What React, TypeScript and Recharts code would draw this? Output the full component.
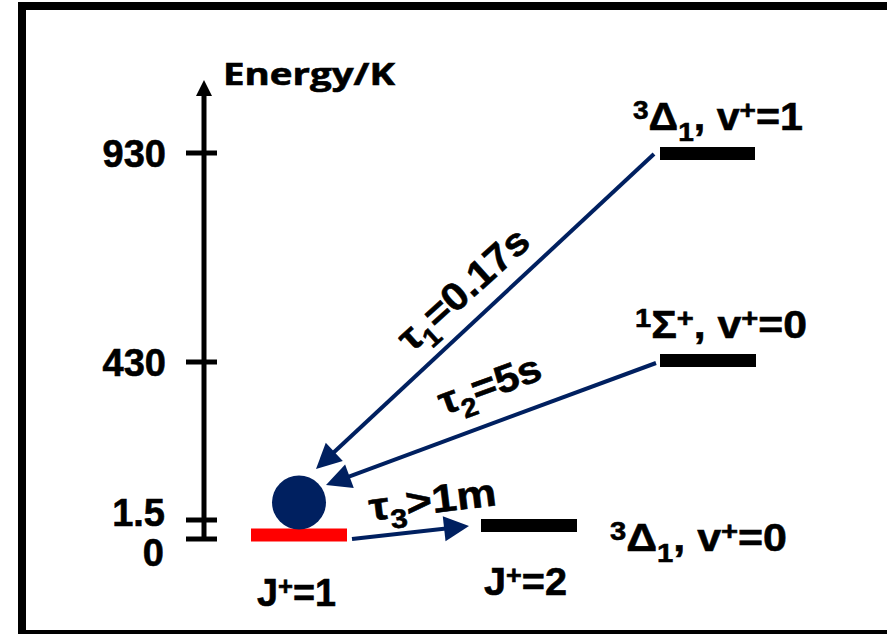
import {
  ComposedChart,
  XAxis,
  YAxis,
  ReferenceLine,
  ReferenceDot,
  Scatter,
} from "recharts";

// energy axis is schematic (not linear), so ticks sit at drawn positions
const tickPos = [0, 19, 177, 386];
const tickLabels = ["0", "1.5", "430", "930"];

// levels: start/end along x and position on the energy axis
const levelNames = ["J+=1", "J+=2", "1Σ+, v+=0", "3Δ1, v+=1"];
const levelX0 = [47, 277, 456, 456];
const levelX1 = [143, 373, 552, 551];
const levelPos = [4, 13.5, 178.5, 385.5];
const levelColors = ["#ff0000", "#000000", "#000000", "#000000"];

// decay arrows: from upper state to arrow tip
const decayNames = ["τ1=0.17s", "τ2=5s", "τ3>1m"];
const decayFromX = [450, 452, 148];
const decayFromY = [385, 176, 0];
const decayToX = [112, 122, 265];
const decayToY = [70, 54, 13];

// the trapped ion
const ion = [{ x: 95, y: 36.5 }];

const navy = "#002060";
const arial = "'Liberation Sans', Arial, sans-serif";

type Seg = { t: string; s?: "sup" | "sub" };

function Rich({
  x,
  y,
  segs,
  size,
  width,
  rotate = 0,
  family = arial,
}: {
  x: number;
  y: number;
  segs: Seg[];
  size: number;
  width?: number;
  rotate?: number;
  family?: string;
}) {
  let shift = 0;
  const small = size * 0.68;
  return (
    <g transform={`translate(${x},${y}) rotate(${rotate})`}>
      <text
        x={0}
        y={0}
        textAnchor="middle"
        fontSize={size}
        fontWeight="bold"
        fontFamily={family}
        fill="#000"
        stroke="#000"
        strokeWidth={0.6}
        textLength={width}
        lengthAdjust="spacingAndGlyphs"
      >
        {segs.map((g, i) => {
          const target = g.s === "sup" ? -size * 0.27 : g.s === "sub" ? size * 0.27 : 0;
          const dy = target - shift;
          shift = target;
          return (
            <tspan key={i} dy={dy} fontSize={g.s ? small : size}>
              {g.t}
            </tspan>
          );
        })}
      </text>
    </g>
  );
}

const tickNudge = [27, 6, 14, 14];
const tickRight = [40, 39, 38, 38];

const AxisTick = (props: any) => {
  const { x, y, payload } = props;
  const i = tickPos.indexOf(payload.value);
  return (
    <g>
      <line x1={x - 18} x2={x + 13} y1={y} y2={y} stroke="#000" strokeWidth={5} />
      <text
        x={x - tickRight[i]}
        y={y + tickNudge[i]}
        textAnchor="end"
        fontSize={38}
        fontWeight="bold"
        fontFamily={arial}
        fill="#000"
        stroke="#000"
        strokeWidth={0.6}
      >
        {tickLabels[i]}
      </text>
    </g>
  );
};

const DecayArrow = (p: any) => {
  const { x1, y1, x2, y2 } = p;
  const dx = x2 - x1;
  const dy = y2 - y1;
  const len = Math.hypot(dx, dy);
  const ux = dx / len;
  const uy = dy / len;
  const headL = 25;
  const headW = 12.5;
  const bx = x2 - ux * headL;
  const by = y2 - uy * headL;
  const pts = `${x2},${y2} ${bx - uy * headW},${by + ux * headW} ${bx + uy * headW},${by - ux * headW}`;
  return (
    <g>
      <line x1={x1} y1={y1} x2={bx + ux * 2} y2={by + uy * 2} stroke={navy} strokeWidth={4} />
      <polygon points={pts} fill={navy} />
    </g>
  );
};

const AxisHead = (p: any) => (
  <polygon points={`${p.cx - 8},${p.cy + 1} ${p.cx + 8},${p.cy + 1} ${p.cx},${p.cy - 15}`} fill="#000" />
);

const label = (segs: Seg[], size: number, width: number, rotate = 0, family = arial) =>
  (p: any) => <Rich x={p.cx} y={p.cy} segs={segs} size={size} width={width} rotate={rotate} family={family} />;

export default function App() {
  return (
    <div
      style={{
        position: "fixed",
        left: 0,
        top: 0,
        width: 887,
        height: 634,
        overflow: "hidden",
        background: "#fff",
      }}
    >
      {/* frame */}
      <div
        style={{
          position: "absolute",
          left: 18,
          top: 2,
          width: 900,
          height: 636,
          border: "8px solid #000",
          boxSizing: "border-box",
        }}
      />
      <div style={{ position: "absolute", left: 0, top: 0 }}>
        <ComposedChart
          width={887}
          height={634}
          margin={{ top: 95, right: 0, bottom: 95, left: 84 }}
        >
          <XAxis type="number" dataKey="x" domain={[0, 683]} hide allowDataOverflow />
          <YAxis
            type="number"
            dataKey="y"
            domain={[0, 444]}
            ticks={tickPos}
            interval={0}
            tick={<AxisTick />}
            tickLine={false}
            tickSize={0}
            tickMargin={0}
            axisLine={{ stroke: "#000", strokeWidth: 5 }}
            width={120}
            allowDataOverflow
          />

          {levelNames.map((n, i) => (
            <ReferenceLine
              key={n}
              segment={[
                { x: levelX0[i], y: levelPos[i] },
                { x: levelX1[i], y: levelPos[i] },
              ]}
              stroke={levelColors[i]}
              strokeWidth={13}
              ifOverflow="visible"
            />
          ))}

          {decayNames.map((n, i) => (
            <ReferenceLine
              key={n}
              segment={[
                { x: decayFromX[i], y: decayFromY[i] },
                { x: decayToX[i], y: decayToY[i] },
              ]}
              shape={DecayArrow}
              ifOverflow="visible"
            />
          ))}

          <Scatter
            data={ion}
            fill={navy}
            isAnimationActive={false}
            shape={(p: any) => <circle cx={p.cx} cy={p.cy} r={27} fill={navy} />}
          />

          <ReferenceDot x={0} y={444} r={0} ifOverflow="visible" shape={AxisHead} />

          {/* axis title */}
          <ReferenceDot
            x={105}
            y={454}
            r={0}
            ifOverflow="visible"
            shape={label([{ t: "Energy/K" }], 30, 172, 0, "'Open Sans', Lato, sans-serif")}
          />

          {/* state labels */}
          <ReferenceDot
            x={514}
            y={409}
            r={0}
            ifOverflow="visible"
            shape={label(
              [{ t: "3", s: "sup" }, { t: "Δ" }, { t: "1", s: "sub" }, { t: ", v" }, { t: "+", s: "sup" }, { t: "=1" }],
              39,
              170
            )}
          />
          <ReferenceDot
            x={517}
            y={201}
            r={0}
            ifOverflow="visible"
            shape={label(
              [{ t: "1", s: "sup" }, { t: "Σ" }, { t: "+", s: "sup" }, { t: ", v" }, { t: "+", s: "sup" }, { t: "=0" }],
              39,
              172
            )}
          />
          <ReferenceDot
            x={494.5}
            y={-12}
            r={0}
            ifOverflow="visible"
            shape={label(
              [{ t: "3", s: "sup" }, { t: "Δ" }, { t: "1", s: "sub" }, { t: ", v" }, { t: "+", s: "sup" }, { t: "=0" }],
              39,
              177
            )}
          />
          <ReferenceDot
            x={92.5}
            y={-67}
            r={0}
            ifOverflow="visible"
            shape={label([{ t: "J" }, { t: "+", s: "sup" }, { t: "=1" }], 39, 79)}
          />
          <ReferenceDot
            x={321.5}
            y={-56}
            r={0}
            ifOverflow="visible"
            shape={label([{ t: "J" }, { t: "+", s: "sup" }, { t: "=2" }], 39, 83)}
          />

          {/* lifetimes */}
          <ReferenceDot
            x={259}
            y={249}
            r={0}
            ifOverflow="visible"
            shape={(p: any) =>
              label([{ t: "τ" }, { t: "1", s: "sub" }, { t: "=0.17s" }], 39, 163, -42)({ cx: p.cx + 9, cy: p.cy + 9 })
            }
          />
          <ReferenceDot
            x={286}
            y={154}
            r={0}
            ifOverflow="visible"
            shape={(p: any) =>
              label([{ t: "τ" }, { t: "2", s: "sub" }, { t: "=5s" }], 39, 107, -20)({ cx: p.cx + 4, cy: p.cy + 12 })
            }
          />
          <ReferenceDot
            x={230}
            y={38}
            r={0}
            ifOverflow="visible"
            shape={(p: any) =>
              label([{ t: "τ" }, { t: "3", s: "sub" }, { t: ">1m" }], 39, 128, -7)({ cx: p.cx, cy: p.cy + 12 })
            }
          />
        </ComposedChart>
      </div>
    </div>
  );
}
